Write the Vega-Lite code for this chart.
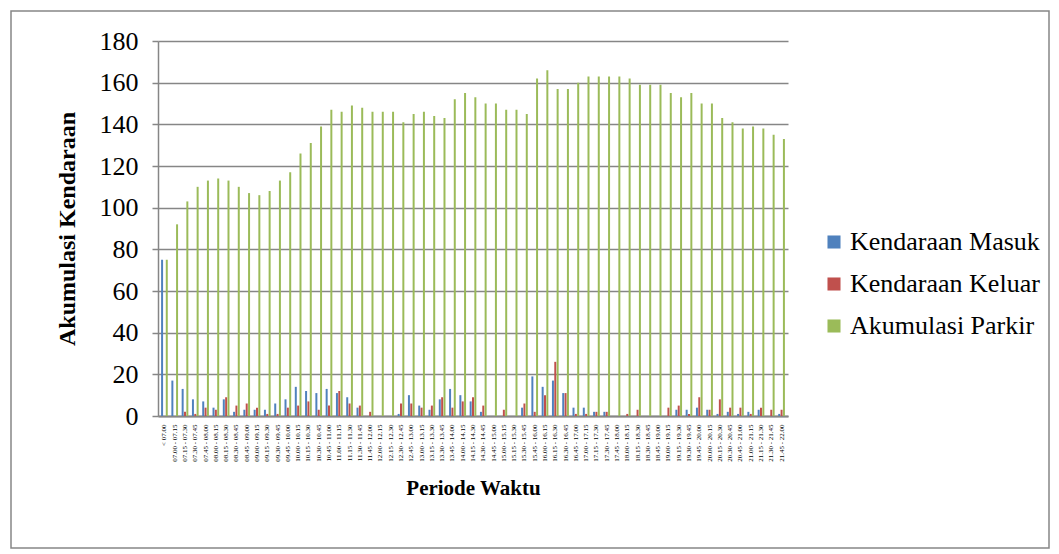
{
  "$schema": "https://vega.github.io/schema/vega-lite/v6.json",
  "autosize": {"type": "none"},
  "padding": {"left": 11, "top": 11, "right": 10, "bottom": 6},
  "width": 1038,
  "height": 537,
  "background": "white",
  "config": {
    "view": {"stroke": "#868686", "strokeWidth": 1.5},
    "font": "Liberation Serif"
  },
  "data": {
    "values": [
      {"Periode": "< 07.00", "Kendaraan Masuk": 75, "Kendaraan Keluar": 0, "Akumulasi Parkir": 75},
      {"Periode": "07.00 - 07.15", "Kendaraan Masuk": 17, "Kendaraan Keluar": 0, "Akumulasi Parkir": 92},
      {"Periode": "07.15 - 07.30", "Kendaraan Masuk": 13, "Kendaraan Keluar": 2, "Akumulasi Parkir": 103},
      {"Periode": "07.30 - 07.45", "Kendaraan Masuk": 8, "Kendaraan Keluar": 1, "Akumulasi Parkir": 110},
      {"Periode": "07.45 - 08.00", "Kendaraan Masuk": 7, "Kendaraan Keluar": 4, "Akumulasi Parkir": 113},
      {"Periode": "08.00 - 08.15", "Kendaraan Masuk": 4, "Kendaraan Keluar": 3, "Akumulasi Parkir": 114},
      {"Periode": "08.15 - 08.30", "Kendaraan Masuk": 8, "Kendaraan Keluar": 9, "Akumulasi Parkir": 113},
      {"Periode": "08.30 - 08.45", "Kendaraan Masuk": 2, "Kendaraan Keluar": 5, "Akumulasi Parkir": 110},
      {"Periode": "08.45 - 09.00", "Kendaraan Masuk": 3, "Kendaraan Keluar": 6, "Akumulasi Parkir": 107},
      {"Periode": "09.00 - 09.15", "Kendaraan Masuk": 3, "Kendaraan Keluar": 4, "Akumulasi Parkir": 106},
      {"Periode": "09.15 - 09.30", "Kendaraan Masuk": 3, "Kendaraan Keluar": 1, "Akumulasi Parkir": 108},
      {"Periode": "09.30 - 09.45", "Kendaraan Masuk": 6, "Kendaraan Keluar": 1, "Akumulasi Parkir": 113},
      {"Periode": "09.45 - 10.00", "Kendaraan Masuk": 8, "Kendaraan Keluar": 4, "Akumulasi Parkir": 117},
      {"Periode": "10.00 - 10.15", "Kendaraan Masuk": 14, "Kendaraan Keluar": 5, "Akumulasi Parkir": 126},
      {"Periode": "10.15 - 10.30", "Kendaraan Masuk": 12, "Kendaraan Keluar": 7, "Akumulasi Parkir": 131},
      {"Periode": "10.30 - 10.45", "Kendaraan Masuk": 11, "Kendaraan Keluar": 3, "Akumulasi Parkir": 139},
      {"Periode": "10.45 - 11.00", "Kendaraan Masuk": 13, "Kendaraan Keluar": 5, "Akumulasi Parkir": 147},
      {"Periode": "11.00 - 11.15", "Kendaraan Masuk": 11, "Kendaraan Keluar": 12, "Akumulasi Parkir": 146},
      {"Periode": "11.15 - 11.30", "Kendaraan Masuk": 9, "Kendaraan Keluar": 6, "Akumulasi Parkir": 149},
      {"Periode": "11.30 - 11.45", "Kendaraan Masuk": 4, "Kendaraan Keluar": 5, "Akumulasi Parkir": 148},
      {"Periode": "11.45 - 12.00", "Kendaraan Masuk": 0, "Kendaraan Keluar": 2, "Akumulasi Parkir": 146},
      {"Periode": "12.00 - 12.15", "Kendaraan Masuk": 0, "Kendaraan Keluar": 0, "Akumulasi Parkir": 146},
      {"Periode": "12.15 - 12.30", "Kendaraan Masuk": 0, "Kendaraan Keluar": 0, "Akumulasi Parkir": 146},
      {"Periode": "12.30 - 12.45", "Kendaraan Masuk": 1, "Kendaraan Keluar": 6, "Akumulasi Parkir": 141},
      {"Periode": "12.45 - 13.00", "Kendaraan Masuk": 10, "Kendaraan Keluar": 6, "Akumulasi Parkir": 145},
      {"Periode": "13.00 - 13.15", "Kendaraan Masuk": 5, "Kendaraan Keluar": 4, "Akumulasi Parkir": 146},
      {"Periode": "13.15 - 13.30", "Kendaraan Masuk": 3, "Kendaraan Keluar": 5, "Akumulasi Parkir": 144},
      {"Periode": "13.30 - 13.45", "Kendaraan Masuk": 8, "Kendaraan Keluar": 9, "Akumulasi Parkir": 143},
      {"Periode": "13.45 - 14.00", "Kendaraan Masuk": 13, "Kendaraan Keluar": 4, "Akumulasi Parkir": 152},
      {"Periode": "14.00 - 14.15", "Kendaraan Masuk": 10, "Kendaraan Keluar": 7, "Akumulasi Parkir": 155},
      {"Periode": "14.15 - 14.30", "Kendaraan Masuk": 7, "Kendaraan Keluar": 9, "Akumulasi Parkir": 153},
      {"Periode": "14.30 - 14.45", "Kendaraan Masuk": 2, "Kendaraan Keluar": 5, "Akumulasi Parkir": 150},
      {"Periode": "14.45 - 15.00", "Kendaraan Masuk": 0, "Kendaraan Keluar": 0, "Akumulasi Parkir": 150},
      {"Periode": "15.00 - 15.15", "Kendaraan Masuk": 0, "Kendaraan Keluar": 3, "Akumulasi Parkir": 147},
      {"Periode": "15.15 - 15.30", "Kendaraan Masuk": 0, "Kendaraan Keluar": 0, "Akumulasi Parkir": 147},
      {"Periode": "15.30 - 15.45", "Kendaraan Masuk": 4, "Kendaraan Keluar": 6, "Akumulasi Parkir": 145},
      {"Periode": "15.45 - 16.00", "Kendaraan Masuk": 19, "Kendaraan Keluar": 2, "Akumulasi Parkir": 162},
      {"Periode": "16.00 - 16.15", "Kendaraan Masuk": 14, "Kendaraan Keluar": 10, "Akumulasi Parkir": 166},
      {"Periode": "16.15 - 16.30", "Kendaraan Masuk": 17, "Kendaraan Keluar": 26, "Akumulasi Parkir": 157},
      {"Periode": "16.30 - 16.45", "Kendaraan Masuk": 11, "Kendaraan Keluar": 11, "Akumulasi Parkir": 157},
      {"Periode": "16.45 - 17.00", "Kendaraan Masuk": 4, "Kendaraan Keluar": 1, "Akumulasi Parkir": 160},
      {"Periode": "17.00 - 17.15", "Kendaraan Masuk": 4, "Kendaraan Keluar": 1, "Akumulasi Parkir": 163},
      {"Periode": "17.15 - 17.30", "Kendaraan Masuk": 2, "Kendaraan Keluar": 2, "Akumulasi Parkir": 163},
      {"Periode": "17.30 - 17.45", "Kendaraan Masuk": 2, "Kendaraan Keluar": 2, "Akumulasi Parkir": 163},
      {"Periode": "17.45 - 18.00", "Kendaraan Masuk": 0, "Kendaraan Keluar": 0, "Akumulasi Parkir": 163},
      {"Periode": "18.00 - 18.15", "Kendaraan Masuk": 0, "Kendaraan Keluar": 1, "Akumulasi Parkir": 162},
      {"Periode": "18.15 - 18.30", "Kendaraan Masuk": 0, "Kendaraan Keluar": 3, "Akumulasi Parkir": 159},
      {"Periode": "18.30 - 18.45", "Kendaraan Masuk": 0, "Kendaraan Keluar": 0, "Akumulasi Parkir": 159},
      {"Periode": "18.45 - 19.00", "Kendaraan Masuk": 0, "Kendaraan Keluar": 0, "Akumulasi Parkir": 159},
      {"Periode": "19.00 - 19.15", "Kendaraan Masuk": 0, "Kendaraan Keluar": 4, "Akumulasi Parkir": 155},
      {"Periode": "19.15 - 19.30", "Kendaraan Masuk": 3, "Kendaraan Keluar": 5, "Akumulasi Parkir": 153},
      {"Periode": "19.30 - 19.45", "Kendaraan Masuk": 3, "Kendaraan Keluar": 1, "Akumulasi Parkir": 155},
      {"Periode": "19.45 - 20.00", "Kendaraan Masuk": 4, "Kendaraan Keluar": 9, "Akumulasi Parkir": 150},
      {"Periode": "20.00 - 20.15", "Kendaraan Masuk": 3, "Kendaraan Keluar": 3, "Akumulasi Parkir": 150},
      {"Periode": "20.15 - 20.30", "Kendaraan Masuk": 1, "Kendaraan Keluar": 8, "Akumulasi Parkir": 143},
      {"Periode": "20.30 - 20.45", "Kendaraan Masuk": 2, "Kendaraan Keluar": 4, "Akumulasi Parkir": 141},
      {"Periode": "20.45 - 21.00", "Kendaraan Masuk": 1, "Kendaraan Keluar": 4, "Akumulasi Parkir": 138},
      {"Periode": "21.00 - 21.15", "Kendaraan Masuk": 2, "Kendaraan Keluar": 1, "Akumulasi Parkir": 139},
      {"Periode": "21.15 - 21.30", "Kendaraan Masuk": 3, "Kendaraan Keluar": 4, "Akumulasi Parkir": 138},
      {"Periode": "21.30 - 21.45", "Kendaraan Masuk": 0, "Kendaraan Keluar": 3, "Akumulasi Parkir": 135},
      {"Periode": "21.45 - 22.00", "Kendaraan Masuk": 1, "Kendaraan Keluar": 3, "Akumulasi Parkir": 133}
    ]
  },
  "transform": [
    {"fold": ["Kendaraan Masuk", "Kendaraan Keluar", "Akumulasi Parkir"], "as": ["Seri", "Jumlah"]}
  ],
  "mark": {"type": "bar"},
  "encoding": {
    "x": {
      "field": "Periode",
      "type": "nominal",
      "sort": null,
      "scale": {"range": [147, 777], "paddingInner": 0.35, "paddingOuter": 0.3},
      "axis": {
        "orient": "bottom",
        "offset": -132,
        "title": "Periode Waktu",
        "titleFont": "Liberation Serif",
        "titleFontSize": 21,
        "titleFontWeight": "bold",
        "titleColor": "black",
        "titlePadding": 16,
        "labelFont": "Liberation Serif",
        "labelFontSize": 7,
        "labelColor": "black",
        "labelAngle": -90,
        "labelPadding": 8,
        "labelOverlap": false,
        "ticks": false,
        "domainColor": "#868686",
        "domainWidth": 2,
        "grid": false
      }
    },
    "xOffset": {
      "field": "Seri",
      "type": "nominal",
      "sort": ["Kendaraan Masuk", "Kendaraan Keluar", "Akumulasi Parkir"],
      "scale": {"paddingInner": 0.15, "paddingOuter": 0}
    },
    "y": {
      "field": "Jumlah",
      "type": "quantitative",
      "scale": {"domain": [0, 180], "range": [405, 30], "nice": false},
      "axis": {
        "offset": -147,
        "values": [0, 20, 40, 60, 80, 100, 120, 140, 160, 180],
        "title": "Akumulasi Kendaraan",
        "titleFont": "Liberation Serif",
        "titleFontSize": 24,
        "titleFontWeight": "bold",
        "titleColor": "black",
        "titlePadding": 20,
        "labelFont": "Liberation Serif",
        "labelFontSize": 26,
        "labelFontWeight": "normal",
        "labelColor": "black",
        "labelPadding": 14,
        "tickSize": 6,
        "tickColor": "#868686",
        "tickWidth": 1.5,
        "domainColor": "#868686",
        "domainWidth": 1.5,
        "gridColor": "#868686",
        "gridWidth": 1.5
      }
    },
    "color": {
      "field": "Seri",
      "type": "nominal",
      "scale": {
        "domain": ["Kendaraan Masuk", "Kendaraan Keluar", "Akumulasi Parkir"],
        "range": ["#4F81BD", "#C0504D", "#9BBB59"]
      },
      "legend": {
        "orient": "none",
        "legendX": 810,
        "legendY": 218,
        "title": null,
        "symbolType": "square",
        "symbolSize": 170,
        "symbolStrokeWidth": 0,
        "labelFont": "Liberation Serif",
        "labelFontSize": 26,
        "labelFontWeight": "normal",
        "labelColor": "black",
        "labelOffset": 3,
        "rowPadding": 16,
        "labelLimit": 300
      }
    }
  }
}
